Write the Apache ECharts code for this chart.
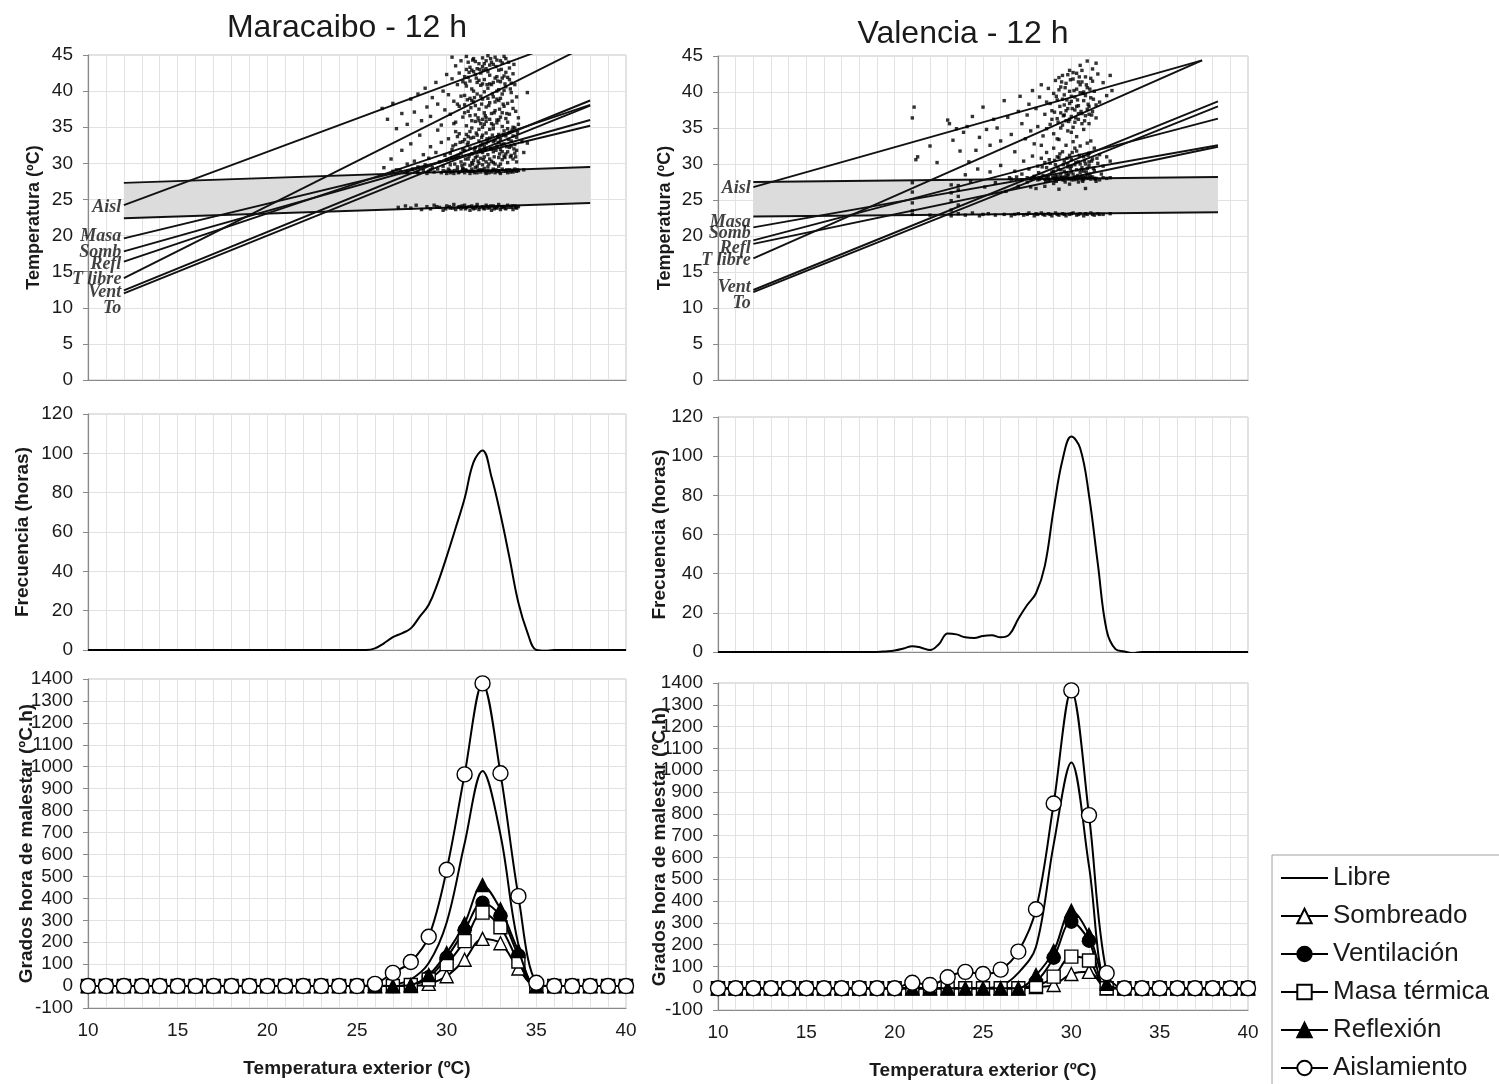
<!DOCTYPE html>
<html>
<head>
<meta charset="utf-8">
<title>Maracaibo / Valencia - 12 h</title>
<script src="https://cdn.jsdelivr.net/npm/echarts@6/dist/echarts.min.js"></script>
<style>
  html, body { margin: 0; padding: 0; background: #ffffff; }
  #chart { width: 1499px; height: 1084px; }
</style>
</head>
<body>
<div id="chart"></div>
<script>
// ---------- shared axis ticks ----------
const xTickLabels = [10, 15, 20, 25, 30, 35, 40];
const cityTitles = ['Maracaibo - 12 h', 'Valencia - 12 h'];
const lineNames = ['Aisl', 'Masa', 'Somb', 'Refl', 'T libre', 'Vent', 'To'];
const strategyNames = ['Libre', 'Sombreado', 'Ventilación', 'Masa térmica', 'Reflexión', 'Aislamiento'];

// ---------- Maracaibo: indoor temperature vs outdoor temperature ----------
const mcbComfortLow = [[12, 22.4], [38, 24.5]];
const mcbComfortHigh = [[12, 27.3], [38, 29.5]];
const mcbFitAisl = [[12, 24.2], [38, 48.2]];
const mcbFitMasa = [[12, 19.6], [38, 35.2]];
const mcbFitSomb = [[12, 17.8], [38, 36.0]];
const mcbFitRefl = [[12, 16.4], [38, 38.1]];
const mcbFitTlibre = [[12, 14.1], [38, 46.5]];
const mcbFitVent = [[12, 12.4], [38, 38.7]];
const mcbFitTo = [[12, 12.0], [38, 38.0]];

const mcbPointsHigh = [
  [26.4,37.6],[26.7,36.1],[27.0,38.3],[27.2,34.8],[27.5,36.9],[27.8,35.4],[28.0,38.9],[28.2,37.1],[28.4,39.6],[28.6,35.9],
  [28.8,40.4],[28.9,37.8],[29.1,36.5],[29.2,39.1],[29.4,41.2],[29.5,38.2],[29.7,35.3],[29.8,40.0],[29.9,37.4],[30.0,42.3],
  [30.1,39.5],[30.2,36.8],[30.3,41.7],[30.4,38.6],[30.5,43.5],[30.5,35.7],[30.6,40.9],[30.7,37.9],[30.8,44.2],[30.8,39.3],
  [30.9,36.4],[31.0,42.0],[31.0,38.1],[31.1,40.7],[31.1,44.8],[31.2,37.2],[31.2,41.9],[31.3,39.0],[31.3,43.3],[31.4,35.9],
  [31.4,40.3],[31.5,42.7],[31.5,38.5],[31.6,44.1],[31.6,36.7],[31.7,41.2],[31.7,39.6],[31.8,43.8],[31.8,37.5],[31.9,40.8],
  [31.9,42.5],[32.0,38.9],[32.0,44.6],[32.0,36.1],[32.1,41.6],[32.1,39.9],[32.2,43.1],[32.2,37.8],[32.3,40.4],[32.3,44.9],
  [32.4,38.4],[32.4,42.2],[32.5,36.9],[32.5,40.9],[32.6,43.7],[32.6,39.2],[32.7,41.8],[32.7,37.3],[32.8,44.3],[32.8,40.0],
  [32.9,42.9],[32.9,38.7],[33.0,41.3],[33.0,36.4],[33.1,43.9],[33.1,39.6],[33.2,42.1],[33.2,37.9],[33.3,40.6],[33.3,44.5],
  [33.4,38.3],[33.4,41.9],[33.5,36.8],[33.5,43.2],[33.6,39.8],[33.7,42.4],[33.7,37.6],[33.8,40.9],[33.9,39.2],[34.0,36.3],
  [34.5,39.8],[31.3,36.6],[31.6,38.0],[31.9,35.5],[32.2,35.8],[32.6,35.3],[32.9,36.0],[31.1,43.0],[31.5,44.5],[32.3,42.7],
  [32.8,42.0],[33.2,44.8],[31.8,41.5],[32.5,44.0],[30.9,41.3],[30.6,38.2],[32.1,37.0],[33.6,41.1],[31.4,42.9],[32.7,38.5],
  [30.3,44.7],[31.2,44.0],[31.7,43.1],[32.4,43.6],[33.0,44.2],[31.5,40.0],[32.0,41.0],[32.6,41.2],[33.1,41.8],[31.0,39.4],
  [31.05,41.1],[31.15,38.8],[31.25,42.6],[31.35,37.7],[31.45,44.3],[31.55,39.1],[31.65,41.8],[31.75,36.3],[31.85,43.0],[31.95,38.2],
  [32.05,42.9],[32.15,36.6],[32.25,40.9],[32.35,38.0],[32.45,44.5],[32.55,39.6],[32.65,37.0],[32.75,43.4],[32.85,41.4],[32.95,37.5],
  [33.05,43.0],[33.15,38.2],[33.25,41.0],[33.35,36.9],[33.45,44.0],[33.55,40.3],[33.65,38.6],[33.75,43.7],[33.85,37.2],[31.6,42.3],
  [32.0,43.4],[32.4,41.0],[32.8,38.9],[33.2,40.1],[31.3,41.4],[31.9,39.3],[32.3,39.0],[32.7,44.7],[33.1,37.0],[33.5,41.6],
  [30.7,42.5],[31.0,37.0],[32.2,44.2],[31.4,38.7],[33.3,42.6],[32.9,40.2],[31.8,35.9],[32.5,35.5],[33.0,39.0],[32.1,43.8]
];
const mcbPointsMid = [
  [26.5,29.4],[26.9,30.6],[27.2,29.1],[27.5,31.8],[27.8,29.9],[28.0,32.7],[28.2,30.3],[28.4,29.5],[28.5,33.9],[28.7,31.2],
  [28.8,29.8],[29.0,30.7],[29.1,32.3],[29.2,29.4],[29.4,31.5],[29.5,34.6],[29.6,30.2],[29.7,32.9],[29.8,29.6],[29.9,31.1],
  [30.0,30.5],[30.1,33.4],[30.2,29.8],[30.3,31.9],[30.4,35.5],[30.5,30.9],[30.5,32.6],[30.6,29.5],[30.7,34.1],[30.8,31.4],
  [30.8,30.2],[30.9,33.0],[31.0,29.9],[31.0,31.8],[31.1,35.2],[31.2,30.6],[31.2,32.9],[31.3,34.4],[31.3,29.7],[31.4,31.3],
  [31.5,33.6],[31.5,30.4],[31.6,32.2],[31.6,35.8],[31.7,31.0],[31.7,29.6],[31.8,33.1],[31.8,34.7],[31.9,30.7],[31.9,32.5],
  [32.0,31.5],[32.0,33.9],[32.0,29.8],[32.1,35.4],[32.1,30.9],[32.2,32.8],[32.2,34.2],[32.3,31.2],[32.3,29.5],[32.4,33.5],
  [32.4,36.1],[32.5,30.3],[32.5,32.0],[32.6,34.8],[32.6,31.6],[32.7,33.2],[32.7,29.9],[32.8,35.6],[32.8,32.4],[32.9,30.8],
  [32.9,34.0],[33.0,31.9],[33.0,33.3],[33.1,35.1],[33.1,30.5],[33.2,32.7],[33.2,34.5],[33.3,31.3],[33.3,33.8],[33.4,30.1],
  [33.4,35.7],[33.5,32.2],[33.5,34.3],[33.6,31.1],[33.6,33.1],[33.7,35.0],[33.7,30.6],[33.8,32.6],[33.8,34.9],[33.9,31.8],
  [33.9,33.6],[34.0,35.4],[34.2,33.0],[34.5,32.8],[34.3,31.5],[30.3,30.8],[30.9,29.2],[31.4,30.1],[31.9,31.7],[32.4,30.6],
  [32.9,29.6],[33.4,31.6],[33.9,30.2],[30.6,33.7],[31.1,34.0],[31.7,33.9],[32.2,36.3],[32.8,36.0],[33.3,36.2],[30.2,31.4],
  [31.3,32.1],[32.0,35.0],[33.0,29.9],[31.6,30.8],[32.1,32.3],[32.6,30.1],[33.2,31.0],[33.6,32.4],[31.0,33.3],[32.3,33.0],
  [30.35,32.4],[30.45,29.9],[30.65,31.1],[30.75,32.9],[30.85,29.7],[31.05,30.6],[31.15,32.6],[31.25,31.0],[31.35,33.5],[31.45,29.9],
  [31.55,31.9],[31.65,34.2],[31.75,30.3],[31.85,32.0],[31.95,33.6],[32.05,30.5],[32.15,31.9],[32.25,33.4],[32.35,29.9],[32.45,32.1],
  [32.55,33.9],[32.65,30.9],[32.75,31.8],[32.85,33.7],[32.95,31.3],[33.05,32.6],[33.15,34.0],[33.25,30.8],[33.35,32.3],[33.45,33.3],
  [33.55,30.9],[33.65,34.6],[33.75,32.0],[33.85,30.9],[33.95,34.3],[31.4,34.9],[32.0,32.7],[32.6,33.0],[33.1,31.6],[33.7,33.8],
  [30.5,34.4],[31.2,33.7],[31.8,30.0],[32.4,34.7],[32.9,32.9],[33.4,34.8],[30.9,31.9],[31.6,29.4],[32.2,30.2],[33.8,31.4]
];
const mcbPointsBandHigh = [
  [27.0,28.9],[27.4,29.1],[27.8,28.8],[28.1,29.2],[28.4,28.7],[28.7,29.0],[28.9,28.6],[29.1,29.1],[29.3,28.8],[29.5,29.2],
  [29.7,28.7],[29.8,29.0],[30.0,28.6],[30.1,29.2],[30.3,28.9],[30.4,28.6],[30.6,29.1],[30.7,28.8],[30.9,29.3],[31.0,28.7],
  [31.1,29.0],[31.3,28.6],[31.4,29.2],[31.5,28.9],[31.7,28.7],[31.8,29.1],[31.9,28.8],[32.1,29.3],[32.2,28.6],[32.3,29.0],
  [32.5,28.8],[32.6,29.2],[32.7,28.7],[32.9,29.0],[33.0,28.6],[33.1,29.2],[33.3,28.9],[33.4,28.7],[33.5,29.1],[33.7,28.8],
  [33.8,29.2],[33.9,28.9],[34.0,29.0],[34.3,29.1],[30.2,28.7],[31.2,28.9],[32.0,29.0],[32.8,28.9],[33.6,29.0],[29.0,28.9],
  [29.95,28.9],[30.15,29.0],[30.45,29.0],[30.65,28.7],[30.85,28.9],[31.05,29.1],[31.35,28.9],[31.55,28.7],[31.75,29.0],[31.95,29.1],
  [32.15,28.8],[32.35,28.7],[32.55,29.0],[32.75,29.1],[32.95,28.8],[33.15,28.9],[33.35,29.1],[33.55,28.8],[33.75,29.0],[33.95,29.1]
];
const mcbPointsBandLow = [
  [27.3,23.9],[27.7,24.1],[28.0,23.8],[28.3,24.2],[28.6,23.6],[28.9,24.0],[29.1,23.7],[29.3,24.2],[29.6,23.9],[29.8,23.5],
  [30.0,24.1],[30.2,23.8],[30.4,24.3],[30.5,23.6],[30.7,24.0],[30.8,23.7],[31.0,24.2],[31.1,23.9],[31.3,23.5],[31.4,24.1],
  [31.6,23.8],[31.7,24.3],[31.8,23.6],[32.0,24.0],[32.1,23.7],[32.2,24.2],[32.4,23.9],[32.5,23.5],[32.6,24.1],[32.8,23.8],
  [32.9,24.3],[33.0,23.6],[33.2,24.0],[33.3,23.7],[33.4,24.2],[33.6,23.9],[33.7,23.6],[33.8,24.1],[33.9,23.8],[34.0,24.0],
  [30.9,23.9],[31.5,23.7],[32.3,23.8],[32.7,23.9],[33.1,24.0],
  [29.45,24.0],[29.95,23.7],[30.15,24.0],[30.35,23.8],[30.65,23.9],[30.85,24.1],[31.05,23.7],[31.25,24.0],[31.45,23.9],[31.65,24.0],
  [31.85,23.9],[32.05,23.8],[32.25,24.0],[32.45,24.1],[32.65,23.7],[32.85,24.0],[33.05,23.9],[33.25,23.8],[33.45,23.9],[33.65,24.1],[33.85,23.9]
];

// ---------- Valencia: indoor temperature vs outdoor temperature ----------
const valComfortLow = [[12, 22.7], [38.3, 23.3]];
const valComfortHigh = [[12, 27.5], [38.3, 28.2]];
const valFitAisl = [[12, 26.8], [37.4, 44.4]];
const valFitMasa = [[12, 21.2], [38.3, 32.6]];
const valFitSomb = [[12, 19.4], [38.3, 36.3]];
const valFitRefl = [[12, 18.9], [38.3, 32.4]];
const valFitTlibre = [[12, 16.9], [37.4, 44.4]];
const valFitVent = [[12, 12.5], [38.3, 38.7]];
const valFitTo = [[12, 12.2], [38.3, 38.0]];

const valPointsHigh = [
  [21.0,36.4],[21.1,37.9],[21.2,30.6],[21.3,31.0],[22.0,32.5],[22.4,30.2],[23.0,36.1],[23.1,35.6],[23.3,33.3],[23.5,34.9],
  [23.7,31.8],[23.9,34.4],[24.1,35.2],[24.2,30.3],[24.4,36.6],[24.6,31.9],[24.8,33.7],[25.0,37.9],[25.2,34.8],[25.4,32.6],
  [25.6,36.2],[25.8,35.0],[26.0,33.2],[26.2,38.8],[26.4,36.5],[26.6,34.1],[26.8,31.7],[27.0,37.3],[27.1,39.4],[27.2,35.6],
  [27.4,33.5],[27.5,36.8],[27.6,38.3],[27.7,34.6],[27.8,40.2],[27.9,32.8],[28.0,37.7],[28.1,35.2],[28.2,39.3],[28.3,41.0],
  [28.4,33.9],[28.5,36.9],[28.6,38.6],[28.7,40.5],[28.8,35.5],[28.9,37.4],[29.0,39.8],[29.0,34.2],[29.1,41.6],[29.2,36.3],
  [29.2,38.9],[29.3,33.4],[29.4,40.7],[29.4,37.1],[29.5,35.4],[29.5,42.3],[29.6,38.2],[29.6,39.6],[29.7,36.0],[29.7,41.2],
  [29.8,34.6],[29.8,37.7],[29.9,40.1],[29.9,43.0],[30.0,38.7],[30.0,36.6],[30.1,41.8],[30.1,35.1],[30.2,39.3],[30.2,37.5],
  [30.3,42.6],[30.3,40.4],[30.4,36.2],[30.4,38.1],[30.5,43.7],[30.5,39.9],[30.6,37.0],[30.6,41.4],[30.7,34.8],[30.7,38.8],
  [30.8,42.1],[30.8,36.7],[30.9,40.6],[30.9,44.3],[31.0,38.0],[31.0,35.6],[31.1,41.9],[31.1,39.2],[31.2,43.2],[31.2,37.3],
  [31.3,40.1],[31.4,36.4],[31.5,42.5],[31.6,38.6],[31.8,41.3],[32.0,39.5],[32.2,42.3],[32.3,40.2],[31.4,44.0],[30.6,43.0],
  [29.3,42.0],[28.9,36.2],[30.0,39.4],[30.4,37.0],[29.6,36.8],[30.8,39.5],[31.0,36.9],[29.9,38.4],[30.5,41.0],[30.2,35.8],
  [29.05,37.2],[29.15,39.4],[29.25,35.8],[29.35,38.0],[29.45,41.4],[29.55,36.7],[29.65,40.6],[29.75,38.9],[29.85,35.9],[29.95,41.7],
  [30.05,37.7],[30.15,40.2],[30.25,36.4],[30.35,38.9],[30.45,42.1],[30.55,37.3],[30.65,39.8],[30.75,36.0],[30.85,41.0],[30.95,38.3],
  [31.05,40.4],[31.15,36.8],[31.25,39.0],[29.5,39.0],[29.9,36.2],[30.3,38.0],[30.7,40.0],[30.1,42.7],[29.7,37.4],[30.6,35.6],
  [29.3,40.3],[30.9,37.6],[31.2,41.5],[28.8,38.4],[28.6,34.9],[31.4,38.2],[30.0,34.4],[29.4,35.0],[30.4,41.4],[29.8,42.4]
];
const valPointsMid = [
  [23.2,27.1],[23.6,26.4],[24.0,28.5],[24.3,27.6],[24.7,29.3],[25.1,26.8],[25.4,28.9],[25.7,27.4],[26.0,29.8],[26.3,26.2],
  [26.5,28.1],[26.8,29.0],[27.0,26.9],[27.2,28.6],[27.3,30.4],[27.5,27.5],[27.6,29.3],[27.8,31.1],[27.9,28.2],[28.0,26.6],
  [28.1,29.7],[28.2,27.9],[28.3,30.8],[28.4,28.4],[28.5,26.9],[28.6,29.5],[28.6,31.6],[28.7,27.7],[28.8,30.1],[28.9,28.9],
  [29.0,32.2],[29.0,27.3],[29.1,29.9],[29.2,28.3],[29.3,30.9],[29.3,26.5],[29.4,29.2],[29.5,31.7],[29.5,27.8],[29.6,30.4],
  [29.7,28.7],[29.7,32.6],[29.8,29.6],[29.9,27.2],[29.9,31.2],[30.0,28.9],[30.0,30.6],[30.1,33.1],[30.2,28.0],[30.2,29.9],
  [30.3,31.8],[30.4,27.5],[30.4,30.3],[30.5,28.8],[30.5,32.5],[30.6,29.5],[30.7,31.0],[30.7,27.9],[30.8,30.0],[30.9,32.9],
  [30.9,28.5],[31.0,29.8],[31.0,31.5],[31.1,28.2],[31.2,30.7],[31.3,29.1],[31.3,32.2],[31.4,27.6],[31.5,30.1],[31.6,31.3],
  [31.7,28.6],[31.8,29.7],[32.0,31.0],[32.2,30.4],[28.3,32.6],[29.2,33.5],[30.3,33.8],[31.1,33.2],[27.7,26.8],[30.8,26.6],
  [29.4,28.5],[29.8,28.4],[30.1,28.6],[30.6,28.3],[29.1,27.9],[30.3,29.2],[29.6,29.0],[30.9,29.4],
  [28.15,28.8],[28.35,29.6],[28.55,27.6],[28.75,30.6],[28.95,28.2],[29.05,30.5],[29.15,27.6],[29.25,29.4],[29.35,31.4],[29.45,28.0],
  [29.55,29.9],[29.65,27.5],[29.75,30.8],[29.85,28.6],[29.95,29.4],[30.05,31.6],[30.15,27.8],[30.25,30.2],[30.35,28.4],[30.45,31.2],
  [30.55,29.2],[30.65,27.6],[30.75,30.4],[30.85,28.9],[30.95,31.2],[31.05,28.6],[31.15,30.4],[31.25,29.4],[31.35,27.9],[31.45,30.8],
  [29.0,29.0],[29.6,28.2],[30.0,29.7],[30.5,30.0],[31.0,30.3],[28.5,30.2],[29.2,31.0],[30.2,32.2],[29.8,30.0],[30.7,29.0]
];
const valPointsBandHigh = [
  [26.6,27.9],[26.9,28.2],[27.2,27.8],[27.5,28.1],[27.7,27.9],[27.9,28.3],[28.1,27.8],[28.3,28.1],[28.5,27.9],[28.6,28.2],
  [28.8,27.8],[29.0,28.0],[29.1,28.3],[29.3,27.9],[29.4,28.1],[29.6,27.8],[29.7,28.2],[29.9,28.0],[30.0,27.8],[30.2,28.2],
  [30.3,27.9],[30.5,28.1],[30.6,27.8],[30.8,28.2],[30.9,28.0],[31.1,27.9],[31.2,28.2],[31.4,28.0],[31.6,27.8],[31.8,28.1],
  [32.0,28.0],[32.2,28.1],
  [28.2,28.0],[28.7,28.1],[29.2,28.0],[29.5,28.1],[29.8,27.9],[30.1,28.0],[30.4,28.0],[30.7,28.1],[31.0,28.1],[31.3,28.0]
];
const valPointsBandLow = [
  [21.0,23.0],[21.0,23.5],[21.0,24.6],[21.0,26.1],[21.0,27.4],[22.0,22.9],[23.2,22.8],[23.2,23.6],[23.2,24.9],[23.2,26.0],
  [23.6,23.1],[23.6,24.3],[23.6,25.5],[23.6,27.0],[24.0,22.9],[24.4,23.2],[24.8,22.8],[25.3,23.1],[25.7,22.9],[26.2,23.0],
  [26.6,22.8],[27.0,23.1],[27.3,22.9],[27.6,23.2],[27.9,22.8],[28.1,23.0],[28.3,23.2],[28.5,22.9],[28.7,23.1],[28.9,22.8],
  [29.1,23.2],[29.3,22.9],[29.5,23.1],[29.7,22.8],[29.9,23.0],[30.1,23.2],[30.3,22.9],[30.5,23.1],[30.7,22.8],[30.9,23.0],
  [31.1,23.2],[31.3,22.9],[31.5,23.1],[31.8,23.0],[32.2,23.1],
  [27.5,23.0],[28.0,23.1],[28.4,23.0],[28.8,23.0],[29.2,23.0],[29.6,23.0],[30.0,23.1],[30.4,23.0],[30.8,23.1],[31.2,23.0],
  [31.6,23.0],[26.8,23.0],[25.0,23.0]
];

// ---------- frequency of outdoor temperature (hours) ----------
const mcbFreqX = [10,12,14,16,18,20,22,24,25,25.5,26,26.5,27,27.5,28,28.5,29,29.5,30,30.5,31,31.5,32,32.5,33,33.5,34,34.5,35,35.5,36,37,38,39,40];
const mcbFreq  = [0,0,0,0,0,0,0,0,0,0,0.8,3.4,6.5,8.5,11,17,23,34,47.5,62,77,95.5,101.5,88,69,47,24,9,0,-0.4,0,0,0,0,0];
const valFreqX = [10,12,14,16,18,19,19.5,20,20.5,21,21.5,22,22.5,23,23.5,24,24.5,25,25.5,26,26.5,27,27.5,28,28.5,29,29.5,30,30.5,31,31.5,32,32.5,33,33.5,34,36,38,40];
const valFreq  = [0,0,0,0,0,0,0.3,0.8,1.8,3,2.2,1,4,9.5,9,7.5,7.2,8.2,8.5,7.5,9,17,24,30,44,73,98,110,104,80,45,11,1.5,0.3,-0.6,0,0,0,0];

// ---------- discomfort degree-hours per outdoor temperature (x = 10..40) ----------
const dhX = [10,11,12,13,14,15,16,17,18,19,20,21,22,23,24,25,26,27,28,29,30,31,32,33,34,35,36,37,38,39,40];
const mcbLibre       = [0,0,0,0,0,0,0,0,0,0,0,0,0,0,0,0,0,5,30,105,290,650,980,690,190,0,0,0,0,0,0];
const mcbSombreado   = [0,0,0,0,0,0,0,0,0,0,0,0,0,0,0,0,0,0,0,10,45,120,215,195,80,0,0,0,0,0,0];
const mcbVentilacion = [0,0,0,0,0,0,0,0,0,0,0,0,0,0,0,0,0,0,5,40,130,255,380,320,140,0,0,0,0,0,0];
const mcbMasa        = [0,0,0,0,0,0,0,0,0,0,0,0,0,0,0,0,0,0,5,30,100,205,335,268,112,0,0,0,0,0,0];
const mcbReflexion   = [0,0,0,0,0,0,0,0,0,0,0,0,0,0,0,0,0,0,5,50,150,285,460,350,160,0,0,0,0,0,0];
const mcbAislamiento = [0,0,0,0,0,0,0,0,0,0,0,0,0,0,0,0,10,60,110,225,530,965,1380,970,410,15,0,0,0,0,0];

const valLibre       = [0,0,0,0,0,0,0,0,0,0,0,0,0,0,0,0,10,70,190,660,1035,560,10,0,0,0,0,0,0,0,0];
const valSombreado   = [0,0,0,0,0,0,0,0,0,0,0,0,0,0,0,0,0,0,5,15,65,75,0,0,0,0,0,0,0,0,0];
const valVentilacion = [0,0,0,0,0,0,0,0,0,0,0,0,0,0,0,0,0,0,30,140,305,218,0,0,0,0,0,0,0,0,0];
const valMasa        = [0,0,0,0,0,0,0,0,0,0,0,0,0,0,0,0,0,0,10,53,145,127,0,0,0,0,0,0,0,0,0];
const valReflexion   = [0,0,0,0,0,0,0,0,0,0,0,0,0,0,0,0,0,0,60,170,355,245,20,0,0,0,0,0,0,0,0];
const valAislamiento = [0,0,0,0,0,0,0,0,0,0,0,25,15,50,75,65,85,168,362,847,1366,794,69,0,0,0,0,0,0,0,0];

// ---------- styling / layout ----------
const FONT = 'Liberation Sans';
const INK = '#1a1a1a';
const GRID_LINE = '#e2e2e2';
const AXIS_LINE = '#8a8a8a';

const pairs = (xs, ys) => xs.map((x, i) => [x, ys[i]]);

const grids = [
  { left: 88, top: 55, width: 538, height: 325 },   // Maracaibo temperatures
  { left: 88, top: 414, width: 538, height: 236 },  // Maracaibo frequency
  { left: 88, top: 679, width: 538, height: 329 },  // Maracaibo degree-hours
  { left: 718, top: 56, width: 530, height: 324 },  // Valencia temperatures
  { left: 718, top: 417, width: 530, height: 235 }, // Valencia frequency
  { left: 718, top: 683, width: 530, height: 327 }  // Valencia degree-hours
].map(g => Object.assign({ show: true, borderColor: '#c4c4c4', borderWidth: 1, backgroundColor: '#fff' }, g));

function xAxisFor(gridIndex, withLabels) {
  return {
    type: 'value', gridIndex, min: 10, max: 40, interval: 1,
    axisLine: { show: true, onZero: false, lineStyle: { color: AXIS_LINE, width: 1.2 } },
    axisTick: { show: false },
    splitLine: { show: true, lineStyle: { color: GRID_LINE, width: 1 } },
    axisLabel: {
      show: withLabels, margin: 13, color: INK, fontSize: 19, fontFamily: FONT,
      formatter: v => (xTickLabels.indexOf(v) >= 0 ? String(v) : '')
    },
    name: withLabels ? 'Temperatura exterior (ºC)' : '',
    nameLocation: 'middle', nameGap: 51, nameMoveOverlap: false,
    nameTextStyle: { fontSize: 19, fontWeight: 'bold', color: INK, fontFamily: FONT }
  };
}
function yAxisFor(gridIndex, min, max, interval, name, nameGap, nameSize) {
  return {
    type: 'value', gridIndex, min, max, interval,
    axisLine: { show: true, lineStyle: { color: AXIS_LINE, width: 1.2 } },
    axisTick: { show: true, length: 5, lineStyle: { color: AXIS_LINE } },
    splitLine: { show: true, lineStyle: { color: GRID_LINE, width: 1 } },
    axisLabel: { margin: 15, color: INK, fontSize: 19, fontFamily: FONT, formatter: v => String(v) },
    name, nameLocation: 'middle', nameGap, nameMoveOverlap: false,
    nameTextStyle: { fontSize: nameSize, fontWeight: 'bold', color: INK, fontFamily: FONT }
  };
}

const xAxes = [
  xAxisFor(0, false), xAxisFor(1, false), xAxisFor(2, true),
  xAxisFor(3, false), xAxisFor(4, false), xAxisFor(5, true)
];
const yAxes = [
  yAxisFor(0, 0, 45, 5, 'Temperatura (ºC)', 45, 18),
  yAxisFor(1, 0, 120, 20, 'Frecuencia (horas)', 56, 19),
  yAxisFor(2, -100, 1400, 100, 'Grados hora de malestar (ºC.h)', 52, 19),
  yAxisFor(3, 0, 45, 5, 'Temperatura (ºC)', 44, 18),
  yAxisFor(4, 0, 120, 20, 'Frecuencia (horas)', 49, 19),
  yAxisFor(5, -100, 1400, 100, 'Grados hora de malestar (ºC.h)', 49, 19)
];

// comfort band, fitted lines, hourly points and line tags for one temperature panel
function temperaturePanel(axisIndex, low, high, lines, pointSets, tagOffsets) {
  const out = [];
  out.push({
    type: 'custom', xAxisIndex: axisIndex, yAxisIndex: axisIndex, silent: true, z: 1,
    data: [[low[0][0], low[0][1], high[0][1], low[1][0], low[1][1], high[1][1]]],
    renderItem: (params, api) => {
      const a = api.coord([api.value(0), api.value(1)]);
      const b = api.coord([api.value(3), api.value(4)]);
      const c = api.coord([api.value(3), api.value(5)]);
      const d = api.coord([api.value(0), api.value(2)]);
      return { type: 'polygon', shape: { points: [a, b, c, d] }, style: { fill: '#dcdcdc' } };
    }
  });
  [low, high].forEach(band => out.push({
    type: 'line', xAxisIndex: axisIndex, yAxisIndex: axisIndex, data: band, symbol: 'none',
    silent: true, z: 3, lineStyle: { color: '#111', width: 1.9 }
  }));
  lines.forEach(ln => out.push({
    type: 'line', xAxisIndex: axisIndex, yAxisIndex: axisIndex, data: ln, symbol: 'none',
    silent: true, z: 3, lineStyle: { color: '#111', width: 1.9 }
  }));
  pointSets.forEach(pts => out.push({
    type: 'scatter', xAxisIndex: axisIndex, yAxisIndex: axisIndex, data: pts,
    symbol: 'rect', symbolSize: 3.4, silent: true, z: 4, itemStyle: { color: '#000' }
  }));
  out.push({
    type: 'scatter', xAxisIndex: axisIndex, yAxisIndex: axisIndex, silent: true, z: 5,
    symbolSize: 1, itemStyle: { color: 'rgba(0,0,0,0)' },
    data: lines.map((ln, i) => ({
      value: ln[0],
      label: {
        show: true, position: 'left', distance: 2, offset: tagOffsets[i],
        formatter: lineNames[i], color: '#111', fontSize: 18,
        fontFamily: 'Liberation Serif', fontStyle: 'italic', fontWeight: 'bold'
      }
    }))
  });
  return out;
}

function freqSeries(axisIndex, xs, ys) {
  return {
    type: 'line', xAxisIndex: axisIndex, yAxisIndex: axisIndex, data: pairs(xs, ys),
    smooth: 0.4, symbol: 'none', silent: true, lineStyle: { color: '#000', width: 2 }
  };
}

const markerStyles = [
  { symbol: 'none', size: 0, fill: 'rgba(0,0,0,0)', border: 'rgba(0,0,0,0)' },
  { symbol: 'triangle', size: 13, fill: '#fff', border: '#000' },
  { symbol: 'circle', size: 13, fill: '#000', border: '#000' },
  { symbol: 'rect', size: 13, fill: '#fff', border: '#000' },
  { symbol: 'triangle', size: 13, fill: '#000', border: '#000' },
  { symbol: 'circle', size: 15, fill: '#fff', border: '#000' }
];
function degreeHourSeries(axisIndex, sets) {
  return sets.map((vals, i) => ({
    name: strategyNames[i], type: 'line', xAxisIndex: axisIndex, yAxisIndex: axisIndex,
    data: pairs(dhX, vals), smooth: 0.35, silent: true, z: 3 + i,
    symbol: markerStyles[i].symbol, symbolSize: markerStyles[i].size, showSymbol: markerStyles[i].symbol !== 'none',
    lineStyle: { color: '#000', width: 2 },
    itemStyle: { color: markerStyles[i].fill, borderColor: markerStyles[i].border, borderWidth: 1.4 }
  }));
}

const series = [].concat(
  temperaturePanel(0, mcbComfortLow, mcbComfortHigh,
    [mcbFitAisl, mcbFitMasa, mcbFitSomb, mcbFitRefl, mcbFitTlibre, mcbFitVent, mcbFitTo],
    [mcbPointsHigh, mcbPointsMid, mcbPointsBandHigh, mcbPointsBandLow],
    [[0, 2], [0, -2], [0, 1], [0, 3], [0, 1], [0, 2], [0, 15]]),
  temperaturePanel(3, valComfortLow, valComfortHigh,
    [valFitAisl, valFitMasa, valFitSomb, valFitRefl, valFitTlibre, valFitVent, valFitTo],
    [valPointsHigh, valPointsMid, valPointsBandHigh, valPointsBandLow],
    [[0, 1], [0, -5], [0, -7], [0, 4], [0, 2], [0, -3], [0, 11]]),
  [freqSeries(1, mcbFreqX, mcbFreq), freqSeries(4, valFreqX, valFreq)],
  degreeHourSeries(2, [mcbLibre, mcbSombreado, mcbVentilacion, mcbMasa, mcbReflexion, mcbAislamiento]),
  degreeHourSeries(5, [valLibre, valSombreado, valVentilacion, valMasa, valReflexion, valAislamiento])
);

const option = {
  animation: false,
  backgroundColor: '#fff',
  textStyle: { fontFamily: FONT },
  title: [
    { text: cityTitles[0], left: 342, top: 7, textAlign: 'center',
      textStyle: { fontSize: 32, fontWeight: 'normal', color: INK, fontFamily: FONT } },
    { text: cityTitles[1], left: 958, top: 13, textAlign: 'center',
      textStyle: { fontSize: 32, fontWeight: 'normal', color: INK, fontFamily: FONT } }
  ],
  legend: {
    data: strategyNames, orient: 'vertical', left: 1272, top: 855, height: 300,
    padding: [10, 40, 30, 8], itemWidth: 47, itemHeight: 18, itemGap: 12,
    borderColor: '#a0a0a0', borderWidth: 1, backgroundColor: '#fff',
    selectedMode: false,
    textStyle: { fontSize: 26, lineHeight: 26, color: INK, fontFamily: FONT }
  },
  grid: grids,
  xAxis: xAxes,
  yAxis: yAxes,
  series
};

const chart = echarts.init(document.getElementById('chart'), null, { renderer: 'canvas' });
chart.setOption(option);
</script>
</body>
</html>
